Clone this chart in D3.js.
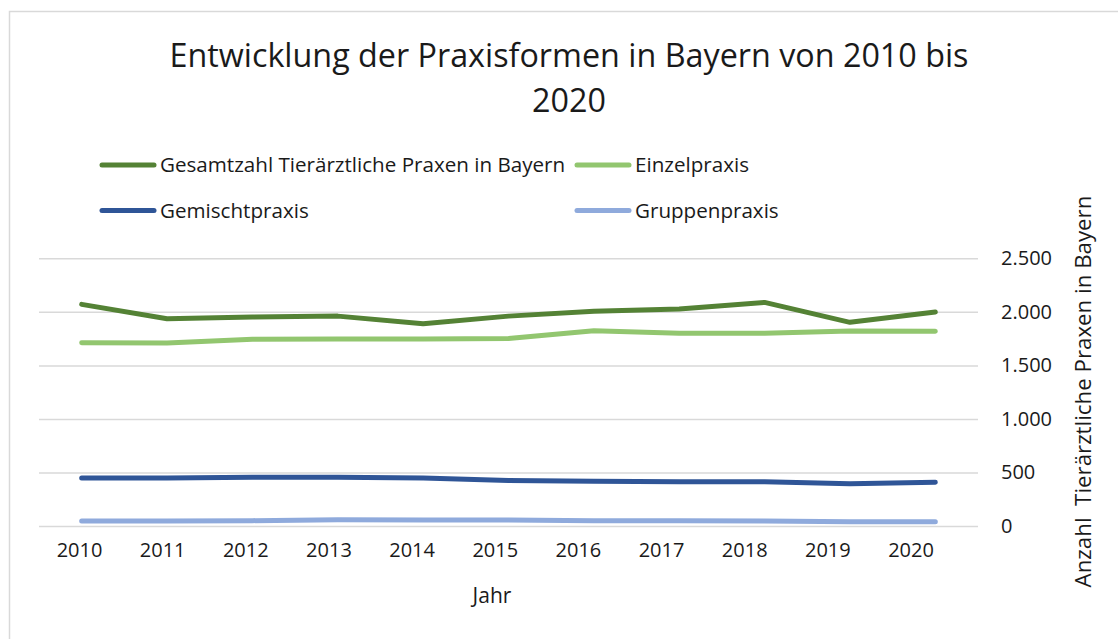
<!DOCTYPE html>
<html>
<head>
<meta charset="utf-8">
<script src="https://cdn.jsdelivr.net/npm/d3@7"></script>
<style>
  html, body { margin: 0; padding: 0; background: #fff; }
  svg { display: block; font-family: "Open Sans", sans-serif; }
</style>
</head>
<body>
<div id="chart"></div>
<script>
// ── Data ────────────────────────────────────────────────────────────────
const years = [2010, 2011, 2012, 2013, 2014, 2015, 2016, 2017, 2018, 2019, 2020];

const gesamt     = [2070, 1935, 1952, 1960, 1889, 1960, 2005, 2027, 2088, 1902, 1998];
const einzel     = [1712, 1709, 1743, 1746, 1746, 1752, 1824, 1800, 1800, 1821, 1818];
const gemischt   = [448, 448, 455, 455, 448, 425, 417, 414, 414, 395, 408];
const gruppen    = [47, 47, 50, 59, 56, 56, 50, 50, 47, 40, 40];

const seriesNames = [
  "Gesamtzahl Tierärztliche Praxen in Bayern",
  "Einzelpraxis",
  "Gemischtpraxis",
  "Gruppenpraxis"
];
const yTicks = [0, 500, 1000, 1500, 2000, 2500];

// ── Palette ─────────────────────────────────────────────────────────────
const COLORS = ["#548235", "#92c66f", "#2f5597", "#8faadc"];
const GRID_C = "#d9d9d9";
const TEXT_C = "#1a1a1a";

const W = 1118, H = 639;
const svg = d3.select("#chart").append("svg").attr("width", W).attr("height", H);

// chart frame
svg.append("rect")
  .attr("x", 9.5).attr("y", 11.5).attr("width", W + 20).attr("height", H + 20)
  .attr("fill", "#fff").attr("stroke", GRID_C).attr("stroke-width", 1.5);

// ── Scales ──────────────────────────────────────────────────────────────
const plot = { left: 39, right: 978, top: 258.3, bottom: 526 };

const x = d3.scalePoint().domain(years).range([plot.left, plot.right]).padding(0.5);
const xLabel = d3.scalePoint().domain(years).range([79, 910.5]);
const y = d3.scaleLinear().domain([0, 2500]).range([plot.bottom, plot.top]);

// Grid
svg.append("g").attr("class", "grid")
  .attr("transform", `translate(${plot.left},0)`)
  .call(d3.axisRight(y).tickValues(yTicks).tickSize(plot.right - plot.left).tickFormat(""))
  .call(g => g.select(".domain").remove())
  .selectAll("line").attr("stroke", GRID_C).attr("stroke-width", 1.5);

// Right axis labels
const fmt = v => d3.format(",")(v).replace(/,/g, ".");
svg.append("g")
  .attr("transform", `translate(${plot.right},0)`)
  .call(d3.axisRight(y).tickValues(yTicks).tickSize(0).tickPadding(23).tickFormat(fmt))
  .call(g => g.select(".domain").remove())
  .selectAll("text")
  .attr("fill", TEXT_C).style("font-size", "20px").style("font-family", "Open Sans");

// Bottom axis labels
svg.append("g")
  .attr("transform", `translate(0,${plot.bottom})`)
  .call(d3.axisBottom(xLabel).tickSize(0).tickPadding(17).tickFormat(d3.format("d")))
  .call(g => g.select(".domain").remove())
  .selectAll("text")
  .attr("fill", TEXT_C).style("font-size", "20px").style("font-family", "Open Sans");

// ── Lines ───────────────────────────────────────────────────────────────
const allSeries = [gesamt, einzel, gemischt, gruppen];
const line = d3.line().x((d, i) => x(years[i])).y(d => y(d));

// draw bottom series first so the totals sit on top
[3, 2, 1, 0].forEach(k => {
  svg.append("path").datum(allSeries[k])
    .attr("fill", "none").attr("stroke", COLORS[k]).attr("stroke-width", 5)
    .attr("stroke-linecap", "round").attr("stroke-linejoin", "round")
    .attr("d", line);
});

// ── Titles ──────────────────────────────────────────────────────────────
svg.append("text")
  .attr("x", 569).attr("y", 67).attr("text-anchor", "middle")
  .attr("fill", TEXT_C).style("font-size", "32.3px")
  .text("Entwicklung der Praxisformen in Bayern von 2010 bis");
svg.append("text")
  .attr("x", 569).attr("y", 112).attr("text-anchor", "middle")
  .attr("fill", TEXT_C).style("font-size", "32.3px")
  .text("2020");

svg.append("text")
  .attr("x", 492).attr("y", 603).attr("text-anchor", "middle")
  .attr("fill", TEXT_C).style("font-size", "21px")
  .text("Jahr");

svg.append("text")
  .attr("transform", "translate(1091,391.5) rotate(-90)")
  .attr("text-anchor", "middle").attr("xml:space", "preserve")
  .attr("fill", TEXT_C).style("font-size", "22.3px")
  .text("Anzahl  Tierärztliche Praxen in Bayern");

// ── Legend ──────────────────────────────────────────────────────────────
const legendPos = [[100, 165], [575, 165], [100, 210.5], [575, 210.5]];
const legend = svg.append("g");
seriesNames.forEach((name, k) => {
  const [lx, ly] = legendPos[k];
  legend.append("line")
    .attr("x1", lx + 2).attr("x2", lx + 54).attr("y1", ly).attr("y2", ly)
    .attr("stroke", COLORS[k]).attr("stroke-width", 5).attr("stroke-linecap", "round");
  legend.append("text")
    .attr("x", lx + 60).attr("y", ly).attr("dy", "0.35em")
    .attr("fill", TEXT_C).style("font-size", "20.6px")
    .text(name);
});
</script>
</body>
</html>
